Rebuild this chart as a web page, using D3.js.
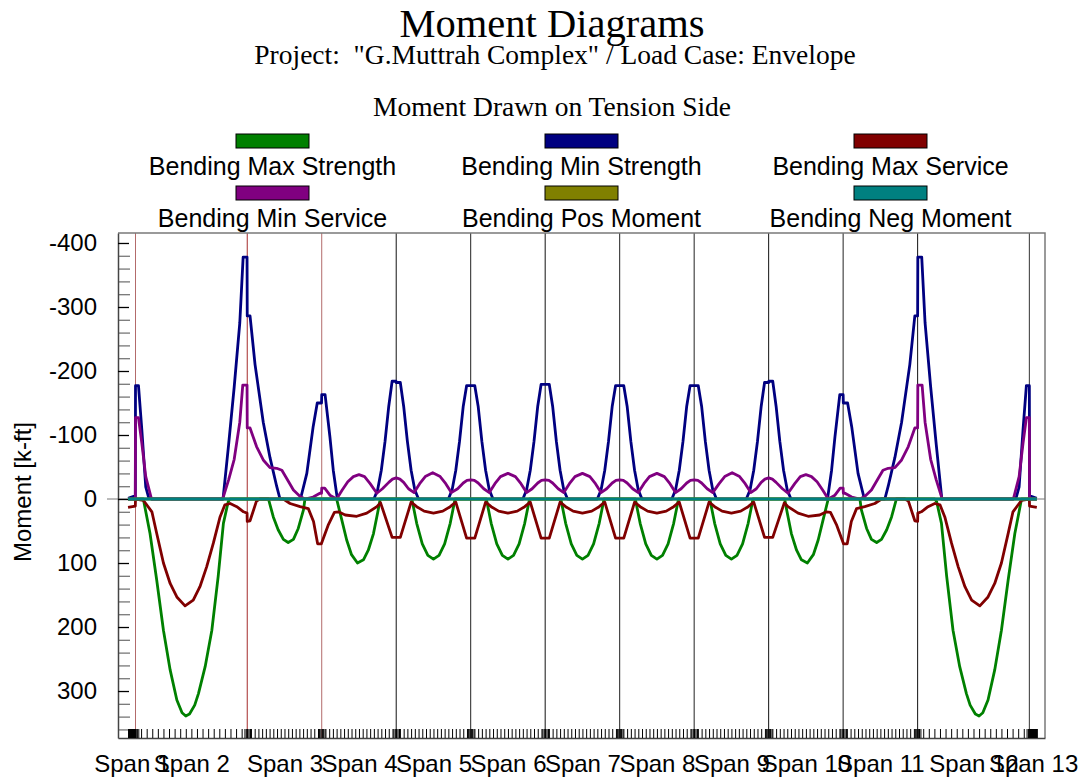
<!DOCTYPE html>
<html>
<head>
<meta charset="utf-8">
<script src="https://cdn.jsdelivr.net/npm/d3@7"></script>
<style>
  body { margin: 0; background: #fff; }
  text { font-family: "Liberation Sans", Arial, sans-serif; }
  .serif { font-family: "Liberation Serif", "Times New Roman", serif; }
</style>
</head>
<body>
<div id="chart"></div>
<script>
// span labels and geometry (ft)
const spanNames = ["Span 1", "Span 2", "Span 3", "Span 4", "Span 5", "Span 6", "Span 7",
  "Span 8", "Span 9", "Span 10", "Span 11", "Span 12", "Span 13"];
const spanBounds = [0, 2, 32, 52, 72, 92, 112, 132, 152, 172, 192, 212, 242, 244];
const supports = [2, 32, 52, 72, 92, 112, 132, 152, 172, 192, 212, 242];
const yTicks = [-400, -300, -200, -100, 0, 100, 200, 300];

// moment envelopes [station ft, moment k-ft]  (negative = drawn upward)
const maxStrength = [
  [0, 0], [4.1, 0], [5.9, 54], [7.7, 127], [9.5, 205], [11.3, 267], [13.1, 314], [14.5, 334], [15.5, 339],
  [16.5, 336], [17.9, 322], [18.9, 304], [20.7, 262], [22.5, 205], [24.2, 121], [25.6, 38], [26.9, 4], [27.4, 0],
  [37.7, 0], [39, 28], [40.3, 48], [41.7, 63], [43, 68], [44.4, 63], [45.7, 46], [47.1, 17], [47.5, 0],
  [56, 0], [57.4, 33], [58.7, 64], [60, 87], [61.6, 100], [63.2, 95], [64.5, 80], [65.9, 54], [67, 22], [67.7, 0],
  [76.2, 0], [77.5, 38], [79, 70], [80.5, 88], [82, 94], [83.5, 88], [85, 70], [86.5, 38], [87.8, 0],
  [96.2, 0], [97.5, 38], [99, 70], [100.5, 88], [102, 94], [103.5, 88], [105, 70], [106.5, 38], [107.8, 0],
  [116.2, 0], [117.5, 38], [119, 70], [120.5, 88], [122, 94], [123.5, 88], [125, 70], [126.5, 38], [127.8, 0],
  [136.2, 0], [137.5, 38], [139, 70], [140.5, 88], [142, 94], [143.5, 88], [145, 70], [146.5, 38], [147.8, 0],
  [156.2, 0], [157.5, 38], [159, 70], [160.5, 88], [162, 94], [163.5, 88], [165, 70], [166.5, 38], [167.8, 0],
  [176.3, 0], [177, 22], [178.1, 54], [179.5, 80], [180.8, 95], [182.4, 100], [184, 87], [185.3, 64], [186.6, 33], [188, 0],
  [196.5, 0], [196.9, 17], [198.3, 46], [199.6, 63], [201, 68], [202.3, 63], [203.7, 48], [205, 28], [206.3, 0],
  [216.6, 0], [217.1, 4], [218.4, 38], [219.8, 121], [221.5, 205], [223.3, 262], [225.1, 304], [226.1, 322],
  [227.5, 336], [228.5, 339], [229.5, 334], [230.9, 314], [232.7, 267], [234.5, 205], [236.3, 127], [238.1, 54],
  [239.9, 0], [244, 0]
];

const minStrength = [
  [0, -1], [1.5, -4], [1.95, -4], [2, -177], [2.8, -177], [3.7, -108], [4.75, -19], [5.5, -3], [6.3, 0],
  [25.5, 0], [27, -85], [28.5, -175], [30, -275], [30.9, -378], [31.95, -378], [32, -286], [32.75, -286],
  [34.1, -210], [36.3, -120], [38.1, -65], [39.9, -20], [40.8, 0],
  [46.3, 0], [48, -40], [49.7, -113], [50.8, -150], [51.95, -150], [52, -163], [52.9, -163], [54.2, -97], [55.1, -45], [56.2, 0],
  [66, 0], [67, -14], [68, -45], [69, -90], [70, -145], [70.9, -184], [71.95, -184], [72, -182], [73.1, -182],
  [74, -145], [75, -90], [76, -45], [77, -14], [78, 0],
  [86, 0], [87, -14], [88, -45], [89, -90], [90, -145], [90.9, -177], [93.1, -177], [94, -145], [95, -90], [96, -45], [97, -14], [98, 0],
  [106, 0], [107, -14], [108, -45], [109, -90], [110, -145], [110.9, -179], [113.1, -179], [114, -145], [115, -90], [116, -45], [117, -14], [118, 0],
  [126, 0], [127, -14], [128, -45], [129, -90], [130, -145], [130.9, -177], [133.1, -177], [134, -145], [135, -90], [136, -45], [137, -14], [138, 0],
  [146, 0], [147, -14], [148, -45], [149, -90], [150, -145], [150.9, -177], [153.1, -177], [154, -145], [155, -90], [156, -45], [157, -14], [158, 0],
  [166, 0], [167, -14], [168, -45], [169, -90], [170, -145], [170.9, -182], [172, -182], [172.05, -184], [173.1, -184],
  [174, -145], [175, -90], [176, -45], [177, -14], [178, 0],
  [187.8, 0], [188.9, -45], [189.8, -97], [191.1, -163], [192, -163], [192.05, -150], [193.2, -150], [194.3, -113], [196, -40], [197.7, 0],
  [203.2, 0], [204.1, -20], [205.9, -65], [207.7, -120], [209.9, -210], [211.25, -286], [212, -286], [212.05, -378],
  [213.1, -378], [214, -275], [215.5, -175], [217, -85], [218.5, 0],
  [237.7, 0], [238.5, -3], [239.25, -19], [240.3, -108], [241.2, -177], [242, -177], [242.05, -4], [242.5, -4], [244, -1]
];

const maxService = [
  [0, 13], [1.95, 11], [2, 0], [4.1, 2], [6.4, 20], [7.7, 54], [9.5, 100], [11.3, 132], [13.1, 153], [15.3, 167],
  [17.5, 158], [19.3, 137], [21.1, 106], [22.9, 69], [24.7, 28], [26, 9], [27.4, 7], [29.2, 12], [31, 20],
  [31.95, 22], [32, 35], [32.75, 34], [34.5, 3], [35.4, 0],
  [41.7, 0], [43.5, 7], [46.2, 12], [48.4, 15], [49.8, 35], [50.9, 70], [51.9, 70], [53.8, 40], [55.4, 21], [56.5, 20],
  [58.3, 25], [61.4, 27], [64.1, 22], [66.8, 12], [67.8, 6],
  [70.9, 60], [73.1, 60], [76, 5],
  [77.5, 12], [79.5, 19], [82, 22], [84.5, 19], [86.5, 12], [88, 5],
  [90.9, 61], [93.1, 61], [96, 5],
  [97.5, 12], [99.5, 19], [102, 22], [104.5, 19], [106.5, 12], [108, 5],
  [110.9, 61], [113.1, 61], [116, 5],
  [117.5, 12], [119.5, 19], [122, 22], [124.5, 19], [126.5, 12], [128, 5],
  [130.9, 61], [133.1, 61], [136, 5],
  [137.5, 12], [139.5, 19], [142, 22], [144.5, 19], [146.5, 12], [148, 5],
  [150.9, 61], [153.1, 61], [156, 5],
  [157.5, 12], [159.5, 19], [162, 22], [164.5, 19], [166.5, 12], [168, 5],
  [170.9, 60], [173.1, 60], [176.2, 6],
  [177.2, 12], [179.9, 22], [182.6, 27], [185.7, 25], [187.5, 20],
  [188.6, 21], [190.2, 40], [192.1, 70], [193.1, 70], [194.2, 35], [195.6, 15], [197.8, 12], [200.5, 7], [202.3, 0],
  [208.6, 0], [209.5, 3], [211.25, 34], [212, 35], [212.05, 22], [213, 20], [214.8, 12], [216.6, 7], [218, 9],
  [219.3, 28], [221.1, 69], [222.9, 106], [224.7, 137], [226.5, 158], [228.7, 167], [230.9, 153], [232.7, 132],
  [234.5, 100], [236.3, 54], [237.6, 20], [239.9, 2], [242, 0], [242.05, 11], [244, 13]
];

const minService = [
  [0, 0], [1.95, 0], [2, -127], [2.8, -127], [3.7, -87], [4.75, -35], [6.3, 0],
  [25.4, 0], [27, -30], [28.5, -62], [30, -120], [30.8, -178], [31.95, -178], [32, -111], [32.75, -111],
  [34.5, -82], [36.3, -61], [38.1, -49], [39.9, -48], [41.3, -45], [42.6, -32], [44.4, -14], [46.2, -4], [47.5, 0],
  [49.7, -3], [51.5, -9], [51.95, -9], [52, -17], [52.8, -17], [54.2, -6], [56, 0],
  [57.5, -14], [59, -27], [60.5, -35], [62, -38], [63.5, -35], [65, -24], [66.8, -9],
  [68.3, -16], [70, -26], [71, -31], [72, -33], [73, -31], [74, -26], [75.3, -16], [76.8, -10],
  [78.3, -24], [79.8, -35], [81.8, -41], [83.8, -35], [85.3, -24], [86.8, -10],
  [88.5, -16], [90, -25], [91, -29], [92, -30], [93, -29], [94, -25], [95.5, -16], [97, -10],
  [98.5, -24], [100, -35], [102, -40], [104, -35], [105.5, -24], [107, -10],
  [108.5, -16], [110, -25], [111, -29], [112, -30], [113, -29], [114, -25], [115.5, -16], [117, -10],
  [118.5, -24], [120, -35], [122, -40], [124, -35], [125.5, -24], [127, -10],
  [128.5, -16], [130, -25], [131, -29], [132, -30], [133, -29], [134, -25], [135.5, -16], [137, -10],
  [138.5, -24], [140, -35], [142, -40], [144, -35], [145.5, -24], [147, -10],
  [148.5, -16], [150, -25], [151, -29], [152, -30], [153, -29], [154, -25], [155.5, -16], [157, -10],
  [158.7, -24], [160.2, -35], [162.2, -41], [164.2, -35], [165.7, -24], [167.2, -10],
  [168.7, -16], [170, -26], [171, -31], [172, -33], [173, -31], [174, -26], [175.7, -16], [177.2, -9],
  [179, -24], [180.5, -35], [182, -38], [183.5, -35], [185, -27], [186.5, -14], [188, 0],
  [189.8, -6], [191.2, -17], [192, -17], [192.05, -9], [192.5, -9], [194.3, -3], [196.5, 0],
  [197.8, -4], [199.6, -14], [201.4, -32], [202.7, -45], [204.1, -48], [205.9, -49], [207.7, -61], [209.5, -82],
  [211.25, -111], [212, -111], [212.05, -178], [213.2, -178], [214, -120], [215.5, -62], [217, -30], [218.6, 0],
  [237.7, 0], [239.25, -35], [240.3, -87], [241.2, -127], [242, -127], [242.05, 0], [244, 0]
];

const posMoment = [[0, 0], [244, 0]];
const negMoment = [[0, 0], [244, 0]];

const legendNames = ["Bending Max Strength", "Bending Min Strength", "Bending Max Service",
  "Bending Min Service", "Bending Pos Moment", "Bending Neg Moment"];
const seriesList = [maxStrength, minStrength, maxService, minService, posMoment, negMoment];
const seriesColors = ["#008000", "#000080", "#800000", "#800080", "#808000", "#008080"];
const supportColors = ["#b36b6b", "#a52a2a", "#b36b6b", "#111", "#222", "#111", "#222", "#222", "#111", "#222", "#111", "#333"];

const W = 1085, H = 777;
const L = 118, R = 1045, T = 233, B = 738;

const svg = d3.select("#chart").append("svg")
  .attr("width", W).attr("height", H);

const x = d3.scaleLinear().domain([-2.7, 246.2]).range([L, R]);
const y = d3.scaleLinear().domain([-415.6, 373.4]).range([T, B]);

// titles
svg.append("text").attr("class", "serif")
  .attr("x", 552).attr("y", 37).attr("text-anchor", "middle")
  .style("font-size", "40.5px").text("Moment Diagrams");
svg.append("text").attr("class", "serif")
  .attr("x", 555).attr("y", 64).attr("text-anchor", "middle")
  .style("font-size", "27.5px").style("white-space", "pre")
  .text('Project:  "G.Muttrah Complex" / Load Case: Envelope');
svg.append("text").attr("class", "serif")
  .attr("x", 552).attr("y", 116).attr("text-anchor", "middle")
  .style("font-size", "27.5px").text("Moment Drawn on Tension Side");

// legend
const legCols = [272.5, 581.5, 890.5];
legendNames.forEach((name, i) => {
  const cx = legCols[i % 3], row = Math.floor(i / 3);
  svg.append("rect")
    .attr("x", cx - 36.5).attr("y", 134 + row * 52)
    .attr("width", 73).attr("height", 14)
    .attr("fill", seriesColors[i]).attr("stroke", "#000").attr("stroke-width", 1);
  svg.append("text")
    .attr("x", cx).attr("y", 175 + row * 52).attr("text-anchor", "middle")
    .style("font-size", "25px").text(name);
});

// zero line
svg.append("line")
  .attr("x1", 107).attr("x2", R).attr("y1", y(0)).attr("y2", y(0))
  .attr("stroke", "#777").attr("stroke-width", 1);

// support lines
svg.append("g").selectAll("line")
  .data(supports)
  .join("line")
  .attr("x1", d => x(d)).attr("x2", d => x(d))
  .attr("y1", T).attr("y2", B)
  .attr("stroke", (d, i) => supportColors[i]).attr("stroke-width", 1);

// frame
svg.append("path")
  .attr("d", `M${L},${T}H${R}V${B}`)
  .attr("fill", "none").attr("stroke", "#7a7a7a").attr("stroke-width", 1.5);

// y axis minor ticks
const minorVals = d3.range(-400, 361, 20).filter(v => v % 100 !== 0);
svg.append("g")
  .attr("transform", `translate(${L},0)`)
  .call(d3.axisLeft(y).tickValues(minorVals).tickSize(-12).tickFormat(""))
  .call(g => g.select(".domain").remove())
  .call(g => g.selectAll(".tick line").attr("stroke", "#777").attr("stroke-width", 1.3));

// y axis major
svg.append("g")
  .attr("transform", `translate(${L},0)`)
  .call(d3.axisLeft(y).tickValues(yTicks).tickSize(11).tickPadding(10).tickSizeOuter(0)
    .tickFormat(d => String(d)))
  .call(g => g.select(".domain").attr("stroke", "#444").attr("stroke-width", 1.5))
  .call(g => g.selectAll(".tick line").attr("x2", 11).attr("stroke", "#000").attr("stroke-width", 1.3))
  .call(g => g.selectAll(".tick text").attr("fill", "#000")
    .style("font-size", "24px").style("font-family", "'Liberation Sans', Arial, sans-serif"));

svg.append("text")
  .attr("transform", `translate(31,492) rotate(-90)`)
  .attr("text-anchor", "middle")
  .style("font-size", "24px").text("Moment [k-ft]");

// x axis station ticks
const stationTicks = [];
for (let i = 0; i < spanBounds.length - 1; i++) {
  const a = spanBounds[i], b = spanBounds[i + 1];
  d3.range(21).forEach(k => stationTicks.push(a + (b - a) * k / 20));
}
supports.forEach(s => stationTicks.push(s - 0.75, s - 0.375, s + 0.375, s + 0.75));

svg.append("g")
  .attr("transform", `translate(0,${B})`)
  .call(d3.axisBottom(x).tickValues(stationTicks).tickSize(-9).tickFormat("").tickSizeOuter(0))
  .call(g => g.select(".domain").attr("stroke", "#444").attr("stroke-width", 1.5))
  .call(g => g.selectAll(".tick line").attr("stroke", "#000").attr("stroke-width", 1));

const spanMids = spanNames.map((n, i) => (spanBounds[i] + spanBounds[i + 1]) / 2);
svg.append("g")
  .attr("transform", `translate(0,${B})`)
  .call(d3.axisBottom(x).tickValues(spanMids).tickSize(0).tickPadding(17)
    .tickFormat((d, i) => spanNames[i]))
  .call(g => g.select(".domain").remove())
  .call(g => g.selectAll(".tick text").attr("fill", "#000")
    .style("font-size", "24px").style("font-family", "'Liberation Sans', Arial, sans-serif"));

// envelopes
svg.append("defs").append("clipPath").attr("id", "plot")
  .append("rect").attr("x", L).attr("y", T).attr("width", R - L).attr("height", B - T);

const line = d3.line().x(d => x(d[0])).y(d => y(d[1]));
svg.append("g").attr("clip-path", "url(#plot)")
  .selectAll("path")
  .data(seriesList)
  .join("path")
  .attr("d", line)
  .attr("fill", "none")
  .attr("stroke", (d, i) => seriesColors[i])
  .attr("stroke-width", 2.8)
  .attr("stroke-linejoin", "round");
</script>
</body>
</html>
